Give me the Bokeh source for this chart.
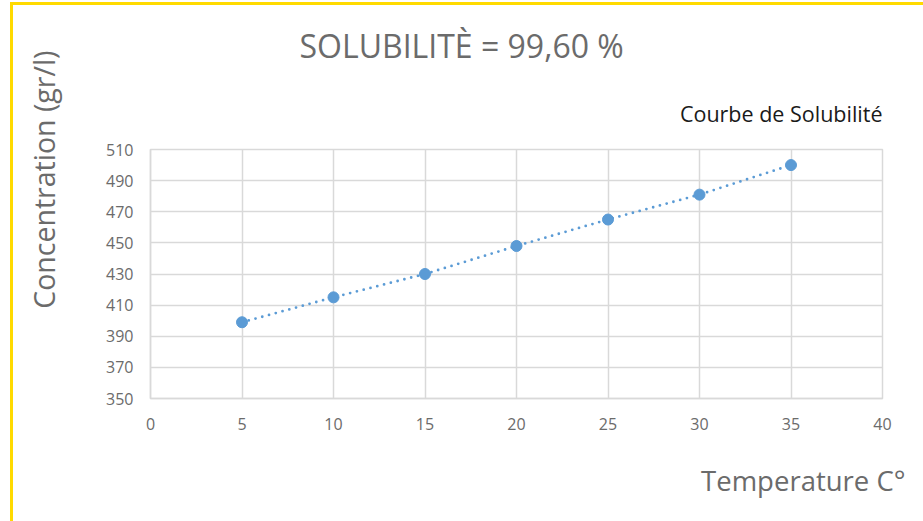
from bokeh.plotting import figure
from bokeh.models import FixedTicker, Title, Range1d
from bokeh.embed import file_html
from bokeh.resources import INLINE

# ---- data ----
temperature = [5, 10, 15, 20, 25, 30, 35]
concentration = [399, 415, 430, 448, 465, 481, 500]
x_ticks = [0, 5, 10, 15, 20, 25, 30, 35, 40]
y_ticks = [350, 370, 390, 410, 430, 450, 470, 490, 510]

title_text = "SOLUBILITÈ = 99,60 %"
series_name = "Courbe de Solubilité"
x_label = "Temperature C°"
y_label = "Concentration (gr/l)"

# ---- style ----
FONT = "Open Sans"
GRID = "#d9d9d9"
TEXT = "#6b6b6b"
BLUE = "#5B9BD5"
YELLOW = "#FFDA00"

p = figure(width=923, height=521, output_backend="svg", toolbar_location=None,
           x_range=Range1d(x_ticks[0], x_ticks[-1]), y_range=Range1d(y_ticks[0], y_ticks[-1]),
           min_border_left=150, min_border_right=41, min_border_top=149, min_border_bottom=123)

# transparent canvas; white page with the yellow chart-area edge drawn by CSS
p.background_fill_color = None
p.border_fill_color = None
p.styles = {
    "background-color": "white",
    "background-image": f"linear-gradient({YELLOW}, {YELLOW}), linear-gradient({YELLOW}, {YELLOW})",
    "background-size": "3px 100%, 100% 3px",
    "background-position": "10px 2px, 10px 2px",
    "background-repeat": "no-repeat",
}
p.outline_line_color = GRID
p.outline_line_width = 1.5

# main title
p.title.text = title_text
p.title.align = "left"
p.title.offset = 149
p.title.text_font = FONT
p.title.text_font_size = "32px"
p.title.text_font_style = "normal"
p.title.text_color = TEXT
p.title.standoff = 16

# series caption (top right)
sub = Title(text=series_name, align="right", text_font=FONT, text_font_size="21.5px",
            text_font_style="normal", text_color="#1a1a1a", standoff=44)
p.add_layout(sub, "above")

# axes
for ax in (p.xaxis[0], p.yaxis[0]):
    ax.axis_line_color = GRID
    ax.axis_line_width = 1.5
    ax.major_tick_line_color = None
    ax.minor_tick_line_color = None
    ax.major_tick_in = 0
    ax.major_tick_out = 0
    ax.major_label_text_font = FONT
    ax.major_label_text_font_size = "16px"
    ax.major_label_text_color = TEXT

p.xaxis.ticker = FixedTicker(ticks=x_ticks)
p.yaxis.ticker = FixedTicker(ticks=y_ticks)
p.xaxis.major_label_standoff = 19
p.yaxis.major_label_standoff = 17

# axis titles
ytitle = Title(text=y_label, align="right", offset=-99, text_font=FONT,
               text_font_size="28.5px", text_font_style="normal", text_color=TEXT,
               standoff=0, padding=dict(left=0, right=0, top=0, bottom=41))
p.add_layout(ytitle, "left")
xtitle = Title(text=x_label, align="right", offset=-23, text_font=FONT,
               text_font_size="27.5px", text_font_style="normal", text_color=TEXT,
               standoff=0, padding=dict(left=0, right=0, top=27, bottom=0))
p.add_layout(xtitle, "below")

# grid
p.xgrid.ticker = FixedTicker(ticks=x_ticks)
p.ygrid.ticker = FixedTicker(ticks=y_ticks)
p.xgrid.grid_line_color = GRID
p.ygrid.grid_line_color = GRID
p.xgrid.grid_line_width = 1.5
p.ygrid.grid_line_width = 1.5

# series
p.line(temperature, concentration, line_color=BLUE, line_width=2.8,
       line_dash="0 7", line_cap="round")
p.scatter(temperature, concentration, size=11, fill_color=BLUE, line_color=BLUE)

open("out.html", "w").write(file_html(p, INLINE))
